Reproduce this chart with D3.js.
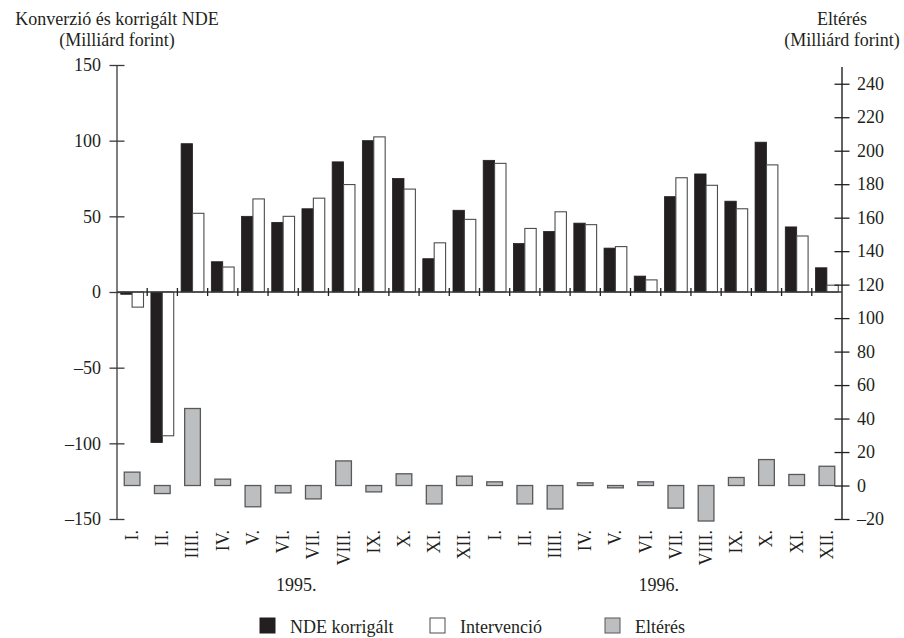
<!DOCTYPE html>
<html>
<head>
<meta charset="utf-8">
<script src="https://cdn.jsdelivr.net/npm/d3@7/dist/d3.min.js"></script>
<style>
  html, body { margin: 0; padding: 0; background: #fff; }
  svg { display: block; }
  text { font-family: "Liberation Serif", "DejaVu Serif", serif; fill: #231f20; }
</style>
</head>
<body>
<svg id="chart" width="904" height="638"></svg>
<script>
// ---- data ----
const months = ["I.", "II.", "IIII.", "IV.", "V.", "VI.", "VII.", "VIII.", "IX.", "X.", "XI.", "XII."];
const years = ["1995.", "1996."];
const categories = years.flatMap(y => months.map(m => y + "|" + m));
const ndeKorrigalt = [-1.5, -99.5, 98, 20, 50, 46, 55, 86, 100, 75, 22, 54,
                      87, 32, 40, 45.5, 29, 10.5, 63, 78, 60, 99, 43, 16];
const intervencio  = [-10, -95, 52, 16.5, 61.5, 50, 62, 71, 102.5, 68, 32.5, 48,
                      85, 42, 53, 44.5, 30, 8, 75.5, 70.5, 55, 84, 37, 4.5];
const elteres      = [8, -4.8, 46, 3.8, -12.7, -4.4, -8, 14.7, -3.8, 7, -11, 5.6,
                      2.2, -11, -14, 1.6, -1.4, 2.2, -13.5, -21.2, 4.8, 15.5, 6.6, 11.5];
const leftTicks = [-150, -100, -50, 0, 50, 100, 150];
const rightTicks = [-20, 0, 20, 40, 60, 80, 100, 120, 140, 160, 180, 200, 220, 240];
const seriesNames = ["NDE korrigált", "Intervenció", "Eltérés"];

// ---- layout ----
const svg = d3.select("#chart");
const xL = 117, xR = 842, yTop = 65, yBot = 519;
const colDark = "#231f20", colAxis = "#3a3a3c", colGray = "#bcbec0", colGrayStroke = "#58595b";

const x = d3.scaleBand().domain(categories).range([xL, xR]).paddingInner(0).paddingOuter(0);
const x1 = d3.scaleBand().domain(["nde", "int"]).range([0, x.bandwidth()]).paddingInner(0).paddingOuter(0.325);
const yLeft = d3.scaleLinear().domain([-150, 150]).range([yBot, yTop]);
const yRight = d3.scaleLinear().domain([-20, 250]).range([yBot, 67]);

// gray bars (right axis)
const grayW = x.bandwidth() * 0.52;
svg.append("g").selectAll("rect").data(elteres).join("rect")
  .attr("x", (d, i) => x(categories[i]) + (x.bandwidth() - grayW) / 2)
  .attr("width", grayW)
  .attr("y", d => yRight(Math.max(0, d)))
  .attr("height", d => Math.abs(yRight(d) - yRight(0)))
  .attr("fill", colGray).attr("stroke", colGrayStroke).attr("stroke-width", 1.3);

// dark bars
svg.append("g").selectAll("rect").data(ndeKorrigalt).join("rect")
  .attr("x", (d, i) => x(categories[i]) + x1("nde"))
  .attr("width", x1.bandwidth())
  .attr("y", d => yLeft(Math.max(0, d)))
  .attr("height", d => Math.abs(yLeft(d) - yLeft(0)))
  .attr("fill", colDark).attr("stroke", colDark).attr("stroke-width", 0.8);

// white bars
svg.append("g").selectAll("rect").data(intervencio).join("rect")
  .attr("x", (d, i) => x(categories[i]) + x1("int"))
  .attr("width", x1.bandwidth())
  .attr("y", d => yLeft(Math.max(0, d)))
  .attr("height", d => Math.abs(yLeft(d) - yLeft(0)))
  .attr("fill", "#fff").attr("stroke", "#4d4d4f").attr("stroke-width", 1.1);

// left axis
const gL = svg.append("g").attr("transform", `translate(${xL},0)`)
  .call(d3.axisLeft(yLeft).tickValues(leftTicks).tickSize(7.5).tickFormat(d => d < 0 ? "\u2013" + Math.abs(d) : d));
gL.select(".domain").remove();
gL.append("line").attr("x1", 0).attr("x2", 0).attr("y1", yLeft(150)).attr("y2", yLeft(-150))
  .attr("stroke", colAxis).attr("stroke-width", 1.3);
gL.selectAll(".tick line").attr("x1", 7.5).attr("x2", -7.5).attr("stroke", colAxis).attr("stroke-width", 1.3);
gL.selectAll(".tick text").attr("x", -16).style("font-size", "18px").attr("fill", colDark)
  .style("font-family", '"Liberation Serif", serif');

// right axis
const gR = svg.append("g").attr("transform", `translate(${xR},0)`)
  .call(d3.axisRight(yRight).tickValues(rightTicks).tickSize(7.5).tickFormat(d => d < 0 ? "\u2013" + Math.abs(d) : d));
gR.select(".domain").remove();
gR.append("line").attr("x1", 0).attr("x2", 0).attr("y1", yRight(250)).attr("y2", yRight(-20))
  .attr("stroke", colDark).attr("stroke-width", 1.4);
gR.selectAll(".tick line").attr("x1", -7.5).attr("x2", 7.5).attr("stroke", colDark).attr("stroke-width", 1.3);
gR.selectAll(".tick text").attr("x", 15).style("font-size", "18px").attr("fill", colDark)
  .style("font-family", '"Liberation Serif", serif');

// x axis (baseline at 0)
const y0 = yLeft(0);
svg.append("line").attr("x1", xL).attr("x2", xR).attr("y1", y0).attr("y2", y0)
  .attr("stroke", colAxis).attr("stroke-width", 1.3);
svg.append("g").selectAll("line").data(categories.slice(1)).join("line")
  .attr("x1", d => x(d)).attr("x2", d => x(d))
  .attr("y1", y0 - 4).attr("y2", y0 + 4)
  .attr("stroke", colDark).attr("stroke-width", 1.3);

// month labels (rotated)
svg.append("g").selectAll("text").data(categories).join("text")
  .attr("transform", d => `translate(${x(d) + x.bandwidth() / 2},530) rotate(-90)`)
  .attr("text-anchor", "end").attr("dy", "0.33em")
  .style("font-size", "18px")
  .text(d => d.split("|")[1]);

// year labels
years.forEach((yr, k) => {
  const first = x(categories[k * 12]), last = x(categories[k * 12 + 11]) + x.bandwidth();
  svg.append("text").attr("x", (first + last) / 2 - 2).attr("y", 591)
    .attr("text-anchor", "middle").style("font-size", "18px").text(yr);
});

// axis titles
const tL = svg.append("text").attr("text-anchor", "middle").style("font-size", "18px");
tL.append("tspan").attr("x", xL).attr("y", 25).text("Konverzió és korrigált NDE");
tL.append("tspan").attr("x", xL).attr("y", 46).text("(Milliárd forint)");
const tR = svg.append("text").attr("text-anchor", "middle").style("font-size", "18px");
tR.append("tspan").attr("x", xR).attr("y", 25).text("Eltérés");
tR.append("tspan").attr("x", xR).attr("y", 46).text("(Milliárd forint)");

// legend
const legendX = [260, 430, 605];
const legendFill = [colDark, "#fff", colGray];
const legendStroke = [colDark, "#4d4d4f", colGrayStroke];
const lg = svg.append("g");
seriesNames.forEach((name, i) => {
  lg.append("rect").attr("x", legendX[i]).attr("y", 618).attr("width", 15).attr("height", 15)
    .attr("fill", legendFill[i]).attr("stroke", legendStroke[i]).attr("stroke-width", 1);
  lg.append("text").attr("x", legendX[i] + 30).attr("y", 633).style("font-size", "18px").text(name);
});
</script>
</body>
</html>
